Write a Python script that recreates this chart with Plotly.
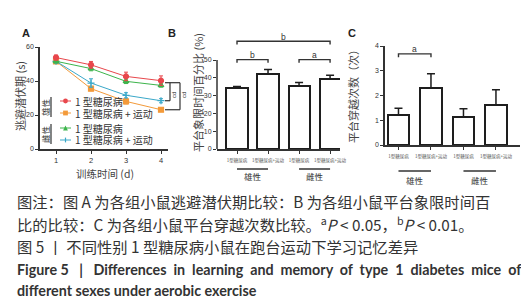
import plotly.graph_objects as go

W, H = 529, 300
CJK = "Noto Sans CJK SC"
LAT = "Liberation Sans"

# ---------------- data ----------------
days = [1, 2, 3, 4]
male_t1d = [53.8, 49.5, 42.7, 40.2]
male_t1d_err = [1.5, 2.0, 2.5, 2.8]
male_ex = [51.6, 35.5, 28.0, 23.1]
male_ex_err = [1.0, 1.2, 1.5, 1.0]
female_t1d = [51.6, 47.3, 39.8, 37.4]
female_t1d_err = [1.0, 1.3, 1.3, 1.0]
female_ex = [51.6, 38.8, 31.6, 28.4]
female_ex_err = [1.0, 2.5, 1.5, 1.2]

series_names = ["1 型糖尿病", "1 型糖尿病 + 运动"]
sex_labels = ["雄性", "雌性"]

group_ticks = ["1型糖尿病", "1型糖尿病+运动", "1型糖尿病", "1型糖尿病+运动"]
quadrant_pct = [34.2, 42.3, 35.6, 39.4]
quadrant_err = [0.9, 2.4, 1.8, 2.0]
crossings = [1.21, 2.30, 1.13, 1.63]
crossings_err = [0.27, 0.58, 0.33, 0.60]

a_yticks = [0, 20, 40, 60]
b_yticks = [0, 10, 20, 30, 40, 50]
c_yticks = [0, 1, 2, 3, 4]

# ---------------- geometry helpers ----------------
PANELS = {
    "A": ((32, 160, 0.543, 4.2), (141, 39, 0, 60)),
    "B": ((209, 332, -0.645, 3.32), (141, 25, 0, 65.17)),
    "C": ((377, 512, -0.415, 3.74), (137, 38, 0, 4)),
}

def px(x):
    return x / W

def py(y):
    return 1 - y / H

def dx(p, v):
    l, r, a, b = PANELS[p][0]
    return px(l + (v - a) / (b - a) * (r - l))

def dy(p, v):
    bt, tp, c, d = PANELS[p][1]
    return py(bt + (v - c) / (d - c) * (tp - bt))

def xdom(p):
    l, r, _, _ = PANELS[p][0]
    return [px(l), px(r)]

def ydom(p):
    bt, tp, _, _ = PANELS[p][1]
    return [py(bt), py(tp)]

def xrng(p):
    return [PANELS[p][0][2], PANELS[p][0][3]]

def yrng(p):
    return [PANELS[p][1][2], PANELS[p][1][3]]

RED, ORANGE, GREEN, CYAN = "#e8474c", "#f39a3a", "#3cb44b", "#3aa8c9"
AX = "#333333"

fig = go.Figure()

# ---------------- panel A ----------------
specs = [
    (male_ex, male_ex_err, ORANGE, "square"),
    (female_ex, female_ex_err, CYAN, "cross-thin"),
    (female_t1d, female_t1d_err, GREEN, "triangle-up"),
    (male_t1d, male_t1d_err, RED, "circle"),
]
for yv, ev, col, sym in specs:
    fig.add_trace(go.Scatter(
        x=days, y=yv, mode="lines+markers",
        line=dict(color=col, width=1),
        marker=dict(symbol=sym, size=5, color=col, line=dict(color=col, width=1.2)),
        error_y=dict(type="data", array=ev, color=col, thickness=1, width=2),
        xaxis="x", yaxis="y", showlegend=False, cliponaxis=False,
    ))

# ---------------- panel B ----------------
bar_style = dict(color="white", line=dict(color="#1e1e1e", width=2))
fig.add_trace(go.Bar(
    x=[0, 1, 2, 3], y=quadrant_pct, width=0.68, marker=bar_style,
    error_y=dict(type="data", array=quadrant_err, arrayminus=[0] * 4, symmetric=False,
                 color="#1e1e1e", thickness=1.5, width=4),
    xaxis="x2", yaxis="y2", showlegend=False,
))
# ---------------- panel C ----------------
fig.add_trace(go.Bar(
    x=[0, 1, 2, 3], y=crossings, width=0.65, marker=bar_style,
    error_y=dict(type="data", array=crossings_err, arrayminus=[0] * 4, symmetric=False,
                 color="#1e1e1e", thickness=1.5, width=4),
    xaxis="x3", yaxis="y3", showlegend=False,
))

common = dict(showgrid=False, zeroline=False, showline=True, linecolor=AX, linewidth=1.5,
              ticks="outside", ticklen=3, tickwidth=1.2, tickcolor=AX, automargin=False,
              tickfont=dict(size=7, color=AX, family=LAT))

fig.update_layout(
    width=W, height=H, margin=dict(l=0, r=0, t=0, b=0, autoexpand=False),
    paper_bgcolor="white", plot_bgcolor="rgba(0,0,0,0)",
    bargap=0,
    xaxis=dict(common, domain=xdom("A"), range=xrng("A"), anchor="y",
               tickvals=days, tickfont=dict(size=7.5, color=AX, family=LAT)),
    yaxis=dict(common, domain=ydom("A"), range=yrng("A"), anchor="x", tickvals=a_yticks),
    xaxis2=dict(common, domain=xdom("B"), range=xrng("B"), anchor="y2",
                tickvals=[0, 1, 2, 3], ticktext=group_ticks, ticklabelstandoff=3,
                tickfont=dict(size=4.5, color="#555", family=CJK)),
    yaxis2=dict(common, domain=ydom("B"), range=yrng("B"), anchor="x2",
                tickvals=b_yticks, showline=False),
    xaxis3=dict(common, domain=xdom("C"), range=xrng("C"), anchor="y3",
                tickvals=[0, 1, 2, 3], ticktext=group_ticks, ticklabelstandoff=3,
                tickfont=dict(size=4.5, color="#555", family=CJK)),
    yaxis3=dict(common, domain=ydom("C"), range=yrng("C"), anchor="x3", tickvals=c_yticks),
)

shapes = []
annots = []

def line(x0, y0, x1, y1, color=AX, width=1.5):
    shapes.append(dict(type="line", xref="paper", yref="paper", x0=x0, y0=y0, x1=x1, y1=y1,
                       line=dict(color=color, width=width)))

def text(x, y, s, size, color=AX, family=CJK, xanchor="center", yanchor="middle", angle=0):
    annots.append(dict(x=x, y=y, xref="paper", yref="paper", text=s, showarrow=False,
                       xanchor=xanchor, yanchor=yanchor, textangle=angle,
                       font=dict(size=size, color=color, family=family)))

# B y-axis line (up to 50 only)
line(px(209), dy("B", 0), px(209), dy("B", 50))

def bracket(p, i, j, yv, drop, label, lab_off):
    x0, x1 = dx(p, i), dx(p, j)
    y, yd = dy(p, yv), dy(p, yv - drop)
    shapes.append(dict(type="path", xref="paper", yref="paper",
                       path=f"M{x0},{yd} L{x0},{y} L{x1},{y} L{x1},{yd}",
                       line=dict(color=AX, width=1.4)))
    text((x0 + x1) / 2, dy(p, yv + lab_off), label, 8.5, family=LAT)

bracket("B", 0, 1, 50.2, 1.8, "b", 2.6)
bracket("B", 2, 3, 50.2, 1.8, "a", 2.6)
bracket("B", 0, 3, 60.5, 1.8, "b", 2.6)
bracket("C", 0, 1, 3.68, 0.13, "a", 0.2)

# group lines under B and C
for p, ly, ty in [("B", 161, 168), ("C", 163, 172)]:
    for k, (i, j) in enumerate([(0, 1), (2, 3)]):
        line(dx(p, i), py(ly), dx(p, j), py(ly), width=1.5)
        text((dx(p, i) + dx(p, j)) / 2, py(ty), sex_labels[k], 8.5, color="#333")

# A significance brackets
xa_l = px(157)
top = dy("A", 39)
line(xa_l, top, px(172), top, width=1.2)
line(px(162), top, px(162), dy("A", female_ex[3]), width=1.2)
line(xa_l, dy("A", female_ex[3]), px(162), dy("A", female_ex[3]), width=1.2)
line(px(172), top, px(172), dy("A", male_ex[3]), width=1.2)
line(xa_l, dy("A", male_ex[3]), px(172), dy("A", male_ex[3]), width=1.2)
text(px(166), py(87), "cd", 6, family=LAT, angle=-90)
text(px(176), py(87), "cd", 6, family=LAT, angle=-90)

# A manual legend
rows = [93, 105, 120, 132]
leg = [(RED, "circle", series_names[0]), (ORANGE, "square", series_names[1]),
       (GREEN, "tri", series_names[0]), (CYAN, "cross", series_names[1])]
for ry, (col, sym, name) in zip(rows, leg):
    line(px(52), py(ry), px(63), py(ry), color=col, width=1)
    cx, cy, r = 57.5, ry, 2.4
    if sym == "circle":
        shapes.append(dict(type="circle", xref="paper", yref="paper", x0=px(cx - r), x1=px(cx + r),
                           y0=py(cy + r), y1=py(cy - r), fillcolor=col, line=dict(color=col, width=0)))
    elif sym == "square":
        shapes.append(dict(type="rect", xref="paper", yref="paper", x0=px(cx - r), x1=px(cx + r),
                           y0=py(cy + r), y1=py(cy - r), fillcolor=col, line=dict(color=col, width=0)))
    elif sym == "tri":
        shapes.append(dict(type="path", xref="paper", yref="paper",
                           path=f"M{px(cx - r)},{py(cy + r)} L{px(cx + r)},{py(cy + r)} L{px(cx)},{py(cy - r)} Z",
                           fillcolor=col, line=dict(color=col, width=0)))
    else:
        line(px(cx), py(cy - r), px(cx), py(cy + r), color=col, width=1.2)
    text(px(65), py(ry), name, 10, color="#333", xanchor="left")

for lbl, cy in [(sex_labels[0], 99), (sex_labels[1], 126)]:
    text(px(37), py(cy), lbl, 8.5, color="#333", angle=-90)
    line(px(43), py(cy - 10), px(43), py(cy + 10), width=1.2)

# titles
text(px(12), py(88), "逃避潜伏期 (s)", 11, color="#444", angle=-90)
text(px(97), py(165), "训练时间 (d)", 10.5, color="#444")
text(px(190), py(85), "平台象限时间百分比 (%)", 11, color="#444", angle=-90)
text(px(345), py(86), "平台穿越次数（次）", 11, color="#444", angle=-90)

# panel letters
text(px(18), py(25), "<b>A</b>", 11, color="#222", family=LAT)
text(px(164), py(25), "<b>B</b>", 11, color="#222", family=LAT)
text(px(344), py(25), "<b>C</b>", 11, color="#222", family=LAT)

# caption
cap = "#333"
text(px(7), py(193), "图注：图 A 为各组小鼠逃避潜伏期比较：B 为各组小鼠平台象限时间百", 15.3, color=cap, xanchor="left")
text(px(7), py(216), "比的比较：C 为各组小鼠平台穿越次数比较。<sup>a</sup><i>P</i> &lt; 0.05，<sup>b</sup><i>P</i> &lt; 0.01。",
     15.3, color=cap, xanchor="left")
text(px(7), py(238), "图 5 丨 不同性别 1 型糖尿病小鼠在跑台运动下学习记忆差异", 15.3, color=cap, xanchor="left")
text(px(7), py(261), "<b>Figure 5   |   Differences  in  learning  and  memory  of  type  1  diabetes  mice  of</b>", 14.3,
     color=cap, family="Lato", xanchor="left")
text(px(7), py(282), "<b>different sexes under aerobic exercise</b>", 14.3, color=cap, family="Lato", xanchor="left")

fig.update_layout(shapes=shapes, annotations=annots)
fig.write_html("out.html")
